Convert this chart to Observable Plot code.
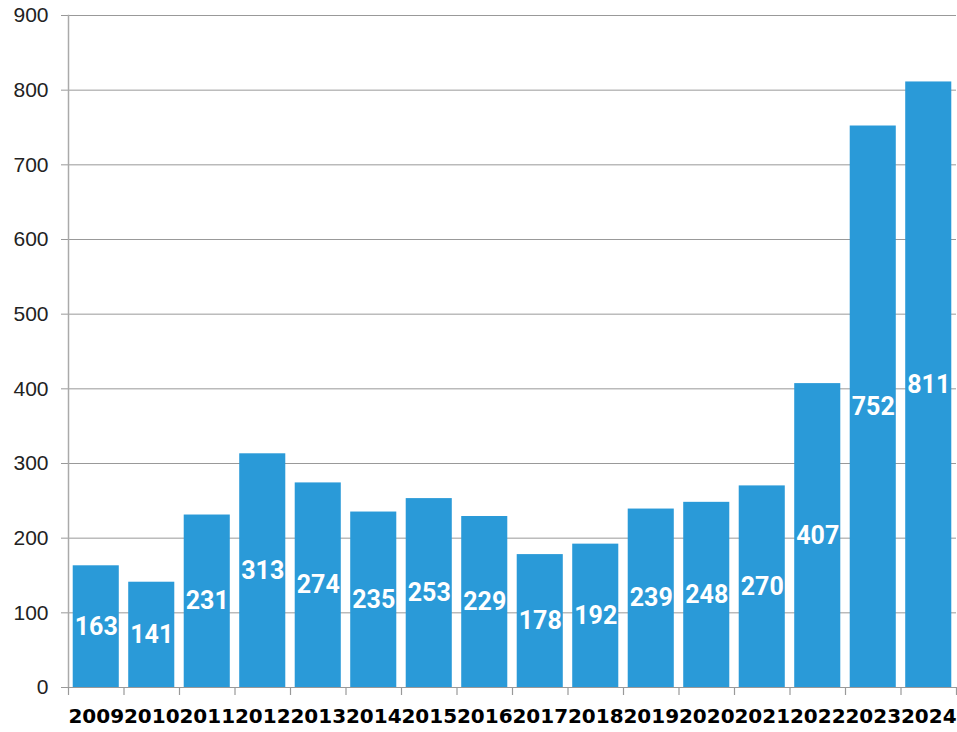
<!DOCTYPE html>
<html>
<head>
<meta charset="utf-8">
<script src="https://cdn.jsdelivr.net/npm/d3@7"></script>
<script src="https://cdn.jsdelivr.net/npm/@observablehq/plot@0.6"></script>
<style>
  html, body { margin: 0; padding: 0; background: #fff; }
  #chart svg { display: block; }
</style>
</head>
<body>
<div id="chart"></div>
<script>
// Yearly counts, 2009–2024
const years = ["2009","2010","2011","2012","2013","2014","2015","2016","2017","2018","2019","2020","2021","2022","2023","2024"];
const counts = [163, 141, 231, 313, 274, 235, 253, 229, 178, 192, 239, 248, 270, 407, 752, 811];
const yTicks = [0, 100, 200, 300, 400, 500, 600, 700, 800, 900];

const data = years.map((year, i) => ({year, count: counts[i]}));

const width = 957, height = 732;
const marginLeft = 68, marginRight = 1, marginTop = 15, marginBottom = 45;
const step = (width - marginLeft - marginRight) / years.length;
const grey = "#999";
const barColor = "#2a9ad8";

const chart = Plot.plot({
  width, height, marginLeft, marginRight, marginTop, marginBottom,
  style: {background: "#fff", overflow: "visible"},
  // bands centred in equal cells, so category boundaries sit at multiples of the step
  x: {domain: years, paddingInner: 0.17, paddingOuter: 0.085, align: 0.5, round: false, label: null},
  y: {domain: [0, 900], label: null},
  marks: [
    // horizontal gridlines, reaching a little left of the axis
    Plot.ruleY(yTicks, {stroke: grey, strokeWidth: 1, insetLeft: -7}),
    // vertical axis line
    Plot.frame({anchor: "left", stroke: "#aaa", strokeWidth: 1.5}),
    Plot.axisY({
      ticks: yTicks, tickSize: 0, tickPadding: 20,
      fontSize: 21, fontFamily: "Liberation Sans, Arial, sans-serif",
      fill: "#222", label: null
    }),
    // tick marks between categories
    Plot.axisX({
      ticks: years, tickSize: 8, dx: -step / 2, tickFormat: () => "",
      stroke: grey, strokeWidth: 1.2, label: null
    }),
    Plot.axisX({
      ticks: [years[years.length - 1]], tickSize: 8, dx: step / 2, tickFormat: () => "",
      stroke: grey, strokeWidth: 1.2, label: null
    }),
    // year labels
    Plot.axisX({
      tickSize: 0, tickPadding: 21,
      fontSize: 20, fontWeight: "bold", fontFamily: "DejaVu Sans, sans-serif",
      fill: "#000", label: null
    }),
    Plot.barY(data, {x: "year", y: "count", fill: barColor}),
    // value labels centred in each bar
    Plot.text(data, {
      x: "year", y: d => d.count / 2, text: d => String(d.count),
      fill: "#fff", fontSize: 25, fontWeight: "bold",
      fontFamily: "Roboto, Liberation Sans, sans-serif"
    })
  ]
});

document.getElementById("chart").append(chart);
</script>
</body>
</html>
